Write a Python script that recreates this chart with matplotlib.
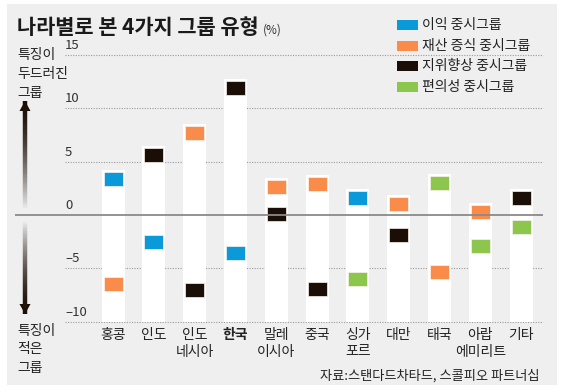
import numpy as np
import matplotlib
matplotlib.use('Agg')
import matplotlib.pyplot as plt
from matplotlib.patches import Rectangle, Polygon
from matplotlib.collections import LineCollection

plt.rcParams['font.family'] = ['Noto Sans CJK KR', 'DejaVu Sans']

countries = ['홍콩', '인도', '인도\n네시아', '한국', '말레\n이시아', '중국',
             '싱가\n포르', '대만', '태국', '아랍\n에미리트', '기타']
nan = np.nan
profit = [3.4, -2.5, nan, -3.6, nan, nan, 1.6, nan, nan, nan, nan]
wealth = [-6.5, nan, 7.7, nan, 2.6, 2.9, nan, 1.0, -5.3, 0.3, nan]
status = [nan, 5.6, -7.0, 11.9, 0.1, -6.9, nan, -1.9, nan, nan, 1.6]
comfort = [nan, nan, nan, nan, nan, nan, -6.0, nan, 3.0, -2.9, -1.1]
series_names = ['이익 중시그룹', '재산 증식 중시그룹', '지위향상 중시그룹', '편의성 중시그룹']
colors = ['#0a9ad9', '#fa8c4b', '#1b0e06', '#8cc64d']
yticks = [15, 10, 5, 0, -5, -10]

W, H = 563, 392
fig = plt.figure(figsize=(W / 100, H / 100), dpi=100, facecolor='white')

# background / decoration axes in pixel coordinates
bg = fig.add_axes([0, 0, 1, 1], zorder=0)
bg.set_xlim(0, W)
bg.set_ylim(H, 0)
bg.axis('off')
bg.add_patch(Rectangle((7, 4), 550, 381, facecolor='#efefef', edgecolor='none'))

# data axes: x=0 at 113px, 40.8px per category; y=0 at 215px, 10.67px per unit
px_x, x0 = 40.8, 113
px_y, y0 = 10.67, 215
L, R, T, B = 15, 545, 40, 325
ax = fig.add_axes([L / W, (H - B) / H, (R - L) / W, (B - T) / H], zorder=1)
ax.set_facecolor('none')
ax.set_xlim((L - x0) / px_x, (R - x0) / px_x)
ax.set_ylim((y0 - B) / px_y, (y0 - T) / px_y)
for s in ax.spines.values():
    s.set_visible(False)

gx0, gx1 = (65 - x0) / px_x, (543 - x0) / px_x
for v in yticks:
    if v != 0:
        ax.hlines(v, gx0, gx1, colors='#9a9a9a', linestyles=(0, (1, 1.3)), lw=0.8, zorder=1)
    ax.text(gx0, v + 3 / px_y, '%d' % v if v >= 0 else '\u2013%d' % -v,
            fontsize=9.5, color='#333333', ha='left', va='bottom', zorder=5)
ax.hlines(0, (15 - x0) / px_x, gx1, colors='#8a8a8a', lw=1.3, zorder=4)

all_vals = np.array([profit, wealth, status, comfort], dtype=float)
xs = np.arange(len(countries))
mh = 14 / px_y
mw = 19 / px_x
tops = np.nanmax(all_vals, axis=0) + mh / 2 + 2 / px_y
ax.bar(xs, tops + 10, bottom=-10, width=23 / px_x, color='white', zorder=2)
for vals, c in zip(all_vals, colors):
    ax.bar(xs, np.full(len(xs), mh), bottom=vals - mh / 2, width=mw,
           color=c, edgecolor='#fbf3ec', lw=0.5, zorder=3)

ax.set_xticks(xs, countries)
ax.tick_params(axis='x', length=0, pad=2, labelsize=10, colors='#222222')
ax.tick_params(axis='y', left=False, labelleft=False)
for t in ax.get_xticklabels():
    t.set_linespacing(1.25)
ax.get_xticklabels()[3].set_fontweight('bold')

# title
bg.text(17, 27, '나라별로 본 4가지 그룹 유형', fontsize=15, fontweight='bold',
        color='#1a1a1a', va='center', ha='left')
bg.text(263, 30, '(%)', fontsize=8.5, color='#333333', va='center', ha='left')

# legend
for i, (name, c) in enumerate(zip(series_names, colors)):
    y = 25 + i * 20.7
    bg.add_patch(Rectangle((397, y - 5), 21, 10, facecolor=c, edgecolor='none'))
    bg.text(422, y, name, fontsize=10, color='#222222', va='center', ha='left')

# side labels
for i, s in enumerate(['특징이', '두드러진', '그룹']):
    bg.text(17, 55 + i * 19, s, fontsize=10, color='#222222', va='center', ha='left')
for i, s in enumerate(['특징이', '적은', '그룹']):
    bg.text(17, 331 + i * 18.5, s, fontsize=10, color='#222222', va='center', ha='left')

# gradient arrows
ax_x = 25
dark = np.array(matplotlib.colors.to_rgb('#1b0e06'))
light = np.array([0.9, 0.9, 0.9])
def grad_arrow(tip, end):
    ys = np.linspace(tip, end, 60)
    segs = [[(ax_x, ys[k]), (ax_x, ys[k + 1])] for k in range(len(ys) - 1)]
    f = np.linspace(0, 1, len(segs)) ** 1.6
    cols = [tuple(dark * (1 - a) + light * a) for a in f]
    bg.add_collection(LineCollection(segs, colors=cols, lw=3.2, capstyle='butt'))
    d = 1 if end > tip else -1
    bg.add_patch(Polygon([(ax_x, tip), (ax_x - 5.5, tip + d * 10), (ax_x + 5.5, tip + d * 10)],
                         closed=True, facecolor='#1b0e06', edgecolor='none'))
grad_arrow(101, 208)
grad_arrow(314, 222)

bg.text(540, 376, '자료:스탠다드차타드, 스콜피오 파트너십', fontsize=9.5, color='#222222',
        ha='right', va='center')

fig.savefig('out.png', dpi=100, facecolor='white')
